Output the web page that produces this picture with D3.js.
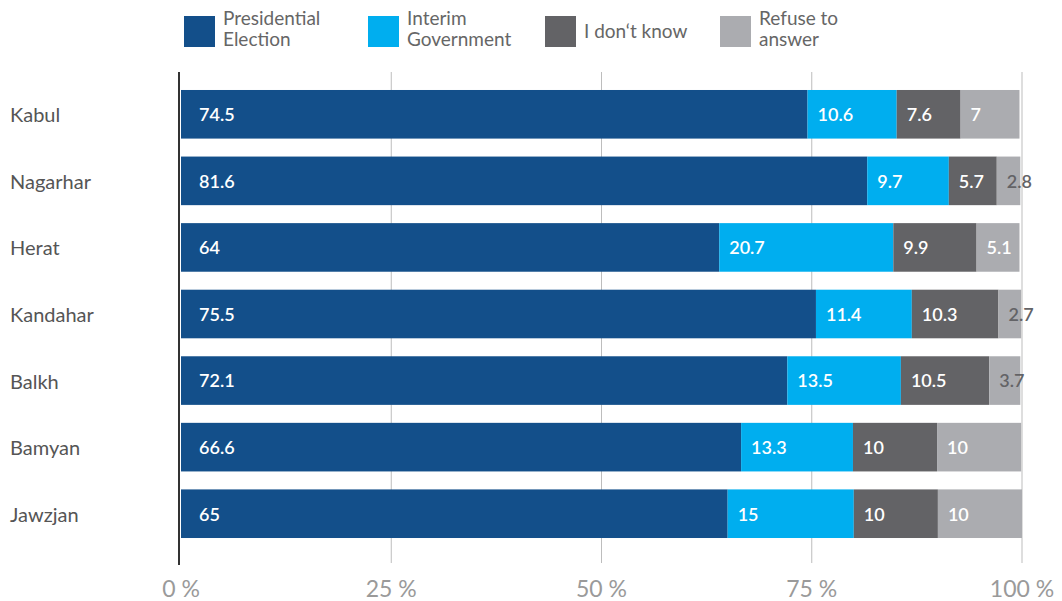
<!DOCTYPE html>
<html>
<head>
<meta charset="utf-8">
<script src="https://cdn.jsdelivr.net/npm/d3@7"></script>
<style>
  html, body { margin: 0; padding: 0; background: #fff; }
  svg { display: block; font-family: "Source Sans Pro", Lato, "Noto Sans", sans-serif; }
</style>
</head>
<body>
<svg id="chart" width="1062" height="601"></svg>
<script>
// Provinces and survey answers (percent)
const provinces = ["Kabul", "Nagarhar", "Herat", "Kandahar", "Balkh", "Bamyan", "Jawzjan"];
const seriesKeys = ["presidential", "interim", "dontKnow", "refuse"];
const seriesNames = [["Presidential", "Election"], ["Interim", "Government"], ["I don‘t know"], ["Refuse to", "answer"]];
const presidential = [74.5, 81.6, 64, 75.5, 72.1, 66.6, 65];
const interim      = [10.6, 9.7, 20.7, 11.4, 13.5, 13.3, 15];
const dontKnow     = [7.6, 5.7, 9.9, 10.3, 10.5, 10, 10];
const refuse       = [7, 2.8, 5.1, 2.7, 3.7, 10, 10];
const tickValues   = [0, 25, 50, 75, 100];
const tickLabels   = ["0 %", "25 %", "50 %", "75 %", "100 %"];

const colors = ["#134f8a", "#00aeef", "#636366", "#abacb0"];

const rows = provinces.map((p, i) => ({
  province: p,
  presidential: presidential[i],
  interim: interim[i],
  dontKnow: dontKnow[i],
  refuse: refuse[i]
}));

const svg = d3.select("#chart");

const x = d3.scaleLinear().domain([0, 100]).range([181, 1022]);
const y = d3.scaleBand().domain(provinces).range([81, 547])
  .paddingInner(0.27).paddingOuter(0.135);

// Vertical gridlines
svg.append("g").selectAll("line")
  .data(tickValues.slice(1))
  .join("line")
  .attr("x1", d => x(d)).attr("x2", d => x(d))
  .attr("y1", 72).attr("y2", 563)
  .attr("stroke", "#bdbdbd").attr("stroke-width", 1);

// Stacked bars
const stack = d3.stack().keys(seriesKeys);
const layers = stack(rows);

const layerG = svg.append("g").selectAll("g")
  .data(layers)
  .join("g")
  .attr("fill", (d, i) => colors[i]);

layerG.selectAll("rect")
  .data(d => d)
  .join("rect")
  .attr("x", d => x(d[0]))
  .attr("width", d => x(d[1]) - x(d[0]))
  .attr("y", d => y(d.data.province))
  .attr("height", y.bandwidth());

// Segment value labels
layers.forEach((layer, li) => {
  svg.append("g").selectAll("text")
    .data(layer)
    .join("text")
    .attr("x", d => x(d[0]) + (li === 0 ? 18 : 10))
    .attr("y", d => y(d.data.province) + y.bandwidth() / 2)
    .attr("dy", "0.38em")
    .attr("font-size", 18)
    .attr("font-weight", 600)
    .attr("fill", d => (d[1] - d[0]) < 5 ? "#636366" : "#ffffff")
    .text(d => d.data[layer.key]);
});

// Left axis line
svg.append("line")
  .attr("x1", 179).attr("x2", 179)
  .attr("y1", 72).attr("y2", 565)
  .attr("stroke", "#333").attr("stroke-width", 2);

// Province labels
svg.append("g").selectAll("text")
  .data(provinces)
  .join("text")
  .attr("x", 10)
  .attr("y", d => y(d) + y.bandwidth() / 2)
  .attr("dy", "0.4em")
  .attr("font-size", 20)
  .attr("fill", "#555")
  .text(d => d);

// Bottom tick labels
svg.append("g").selectAll("text")
  .data(tickValues)
  .join("text")
  .attr("x", d => x(d))
  .attr("y", 597)
  .attr("text-anchor", "middle")
  .attr("font-size", 23)
  .attr("fill", "#9a9a9a")
  .text((d, i) => tickLabels[i]);

// Legend
const legendX = [184, 368, 545, 720];
const legend = svg.append("g").selectAll("g")
  .data(seriesNames)
  .join("g")
  .attr("transform", (d, i) => `translate(${legendX[i]},0)`);

legend.append("rect")
  .attr("x", 0).attr("y", 16)
  .attr("width", 31).attr("height", 31)
  .attr("fill", (d, i) => colors[i]);

legend.append("text")
  .attr("font-size", 19)
  .attr("fill", "#666")
  .selectAll("tspan")
  .data(d => d.map((line, j) => ({ line, j, n: d.length })))
  .join("tspan")
  .attr("x", 39)
  .attr("y", d => d.n === 1 ? 38 : 25 + d.j * 21)
  .text(d => d.line);
</script>
</body>
</html>
